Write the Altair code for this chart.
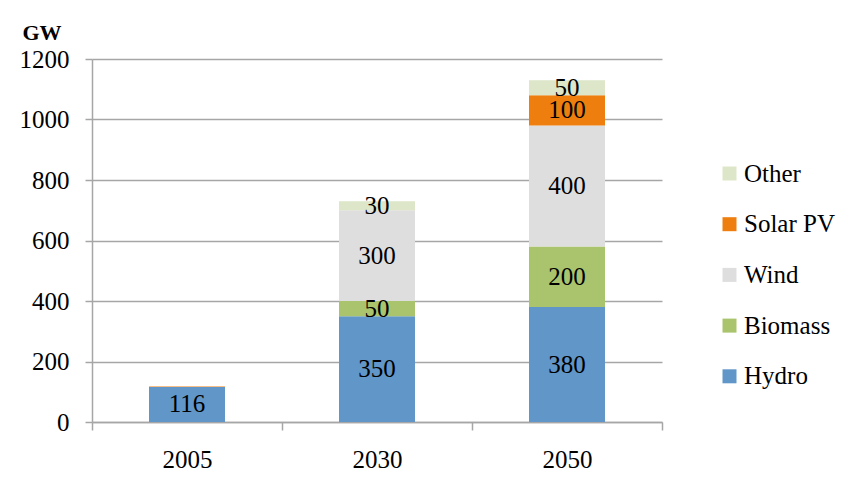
import altair as alt
import pandas as pd

years = ["2005", "2030", "2050"]
sources = ["Hydro", "Biomass", "Wind", "Solar PV", "Other"]
hydro = [116, 350, 380]
biomass = [0, 50, 200]
wind = [0, 300, 400]
solar = [1, 0, 100]
other = [0, 30, 50]

legend_order = ["Other", "Solar PV", "Wind", "Biomass", "Hydro"]
colors = ["#DDE6C8", "#EE7E0D", "#DEDEDE", "#A9C46C", "#6096C8"]

rows = []
for i, y in enumerate(years):
    for k, (s, vals) in enumerate(zip(sources, [hydro, biomass, wind, solar, other])):
        if vals[i] > 0:
            rows.append({"year": y, "source": s, "value": vals[i], "ord": k})
df = pd.DataFrame(rows)

FONT = "Liberation Serif"
FS = 25

base = alt.Chart(df).transform_stack(
    stack="value", groupby=["year"], sort=[alt.SortField("ord")], as_=["y0", "y1"]
).transform_calculate(mid="(datum.y0 + datum.y1) / 2")

xenc = alt.X(
    "year:N",
    sort=years,
    scale=alt.Scale(paddingInner=0, paddingOuter=0),
    axis=alt.Axis(
        title=None, tickBand="extent", tickSize=8, labelPadding=17,
        labelFont=FONT, labelFontSize=FS, labelColor="black", labelAngle=0,
        domainColor="#A6A6A6", tickColor="#A6A6A6", domainWidth=1.5, tickWidth=1.5,
    ),
)

bars = base.mark_bar(width=alt.RelativeBandSize(0.4)).encode(
    x=xenc,
    y=alt.Y(
        "y0:Q",
        scale=alt.Scale(domain=[0, 1200]),
        axis=alt.Axis(
            values=[0, 200, 400, 600, 800, 1000, 1200], format="d",
            title="GW", titleAngle=0, titleX=-70, titleY=-27, titleAlign="left",
            titleBaseline="middle", titleFont=FONT, titleFontSize=22, titleFontWeight="bold",
            titleColor="black",
            labelFont=FONT, labelFontSize=FS, labelColor="black", labelPadding=16, tickSize=7,
            grid=True, gridColor="#A6A6A6", gridWidth=1.5,
            domainColor="#A6A6A6", tickColor="#A6A6A6", domainWidth=1.5, tickWidth=1.5,
        ),
    ),
    y2="y1:Q",
    color=alt.Color(
        "source:N",
        scale=alt.Scale(domain=legend_order, range=colors),
        legend=alt.Legend(
            title=None, orient="none", legendX=625, legendY=102,
            symbolType="square", symbolSize=196, symbolStrokeWidth=0,
            labelFont=FONT, labelFontSize=FS, labelColor="black",
            rowPadding=24.7, labelOffset=2, padding=0, labelLimit=200,
        ),
    ),
)

labels = base.transform_filter("datum.value >= 10").mark_text(
    font=FONT, fontSize=FS, color="black", baseline="middle"
).encode(
    x=alt.X("year:N", sort=years),
    y=alt.Y("mid:Q"),
    text=alt.Text("value:Q"),
)

chart = alt.layer(bars, labels).properties(
    width=570,
    height=363,
    padding={"left": 84, "top": 51, "right": 174, "bottom": 49},
    autosize=alt.AutoSizeParams(type="none"),
    title=alt.TitleParams(
        "Capacity", font=FONT, fontSize=24, fontWeight="bold", color="black",
        anchor="middle", dx=63, offset=54, baseline="bottom",
    ),
).configure_view(stroke=None)

chart.save("out.html", embed_options={"renderer": "svg", "actions": False})
